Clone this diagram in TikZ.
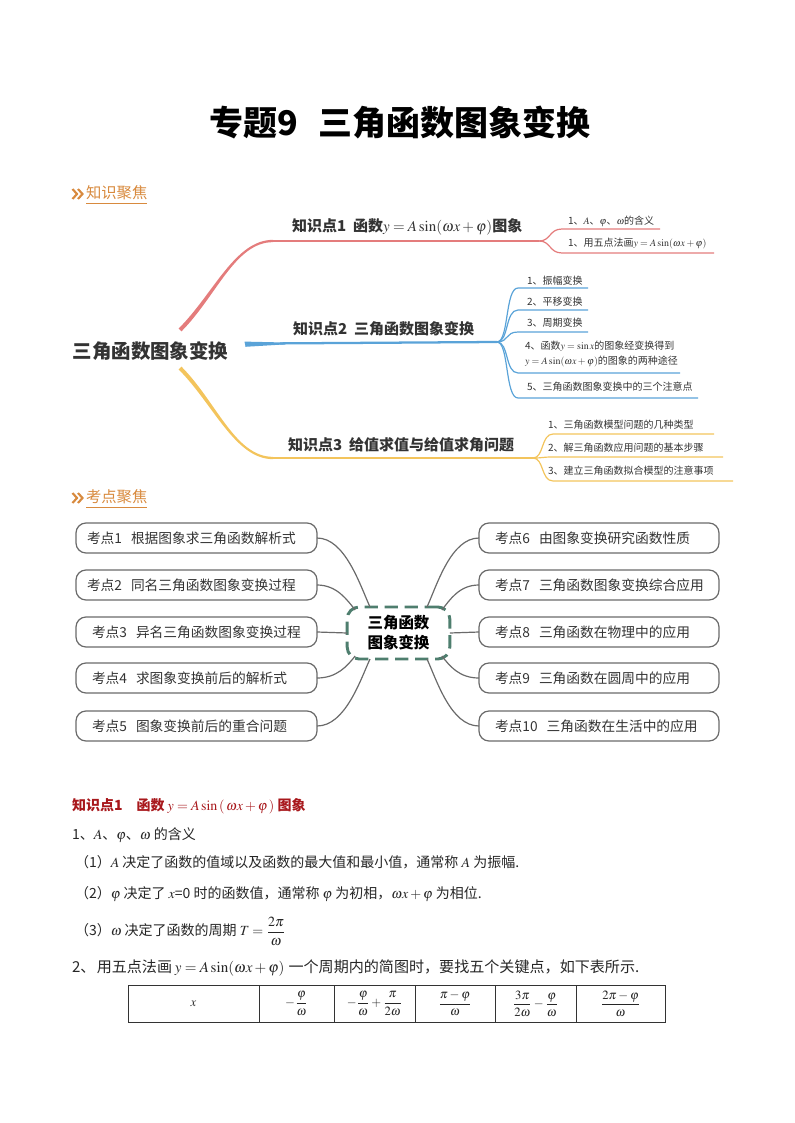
\documentclass[tikz,border=0pt]{standalone}
\usepackage{amsmath}
\usepackage{mathptmx}
\usepackage{fontspec}
\setmainfont{Noto Sans CJK SC}
\usetikzlibrary{calc}
\definecolor{redb}{HTML}{E47C7C}
\definecolor{blueb}{HTML}{5AA3D8}
\definecolor{yelb}{HTML}{F3C45C}
\definecolor{hdrc}{HTML}{D88A3E}
\definecolor{dkred}{HTML}{A8181C}
\definecolor{dgreen}{HTML}{4E7E6E}
\definecolor{txtc}{HTML}{333333}
\definecolor{linec}{HTML}{6A6A6A}
\begin{document}
\begin{tikzpicture}[x=0.75pt,y=-0.75pt,
  every node/.style={inner sep=0pt,outer sep=0pt},
  ttl/.style={font=\fontsize{25.5}{28}\selectfont\bfseries},
  hdr/.style={font=\fontsize{11.5}{13}\selectfont, text=hdrc, anchor=west},
  roottxt/.style={font=\fontsize{14.6}{16}\selectfont\bfseries, text=txtc},
  brtxt/.style={font=\fontsize{11.25}{13}\selectfont\bfseries, text=txtc, anchor=west},
  subtxt/.style={font=\fontsize{7.5}{11.25}\selectfont, text=txtc, anchor=west},
  mainbr/.style={line width=1.7pt},
  subbr/.style={line width=0.9pt},
  kboxA/.style={draw=linec, line width=0.9pt, rounded corners=7.5pt, minimum height=22.5pt, inner xsep=8.25pt, text width=164.25pt, align=left, font=\fontsize{10.3}{12}\selectfont, text=txtc, anchor=west},
  kboxB/.style={kboxA, inner xsep=12pt, text width=#1},
  cnode/.style={draw=dgreen, line width=2.2pt, dash pattern=on 10pt off 5pt, rounded corners=9pt, minimum width=77pt, minimum height=39pt, align=center, font=\fontsize{11.6}{15}\selectfont\bfseries, text=black},
  conn/.style={draw=linec, line width=0.9pt},
  body/.style={font=\fontsize{10.5}{12}\selectfont, text=black!85, anchor=west},
  cell/.style={font=\fontsize{9.5}{11}\selectfont, text=black!85}
]
\useasboundingbox (0,0) rectangle (794,1123);
\newcommand{\gap}{\hspace{0.65em}}

% Title
\node[ttl] (title) at (400,123) {专题9\hspace{0.6em}三角函数图象变换};

% Header 1
\node[hdr] (h1) at (86,193) {知识聚焦};
\draw[hdrc, line width=0.75pt] ($(h1.south west)+(0,3)$) -- ($(h1.south east)+(0,3)$);
\draw[hdrc, line width=1.6pt] (72.5,189) -- (77,194) -- (72.5,199) (78,189) -- (82.5,194) -- (78,199);

% Mind map 1
\node[roottxt] (root) at (150.5,351) {三角函数图象变换};

% red branch
\coordinate (r0) at ($(root.center)+(29.5,-21)$);
\coordinate (r1) at (539,241);
\fill[redb] (178.6,328.6) .. controls (213.6,293.6) and (235,239.85) .. (273,239.85)
  -- (273,242.15) .. controls (235,242.15) and (216.4,296.4) .. (181.4,331.4) -- cycle;
\draw[redb, mainbr] (273,241) -- (r1);
\node[brtxt] (k1) at (292,227) {知识点1\ \ 函数$y=A\sin(\omega x+\varphi)$图象};
\coordinate (r1a) at (562,229); \coordinate (r1ae) at (660,229);
\coordinate (r1b) at (562,253); \coordinate (r1be) at (714,253);
\draw[redb, subbr] (r1) .. controls (551,241) and (549,229) .. (r1a) -- (r1ae);
\draw[redb, subbr] (r1) .. controls (551,241) and (549,253) .. (r1b) -- (r1be);
\node[subtxt] (s11) at (568,221) {1、$A$、$\varphi$、$\omega$的含义};
\node[subtxt] (s12) at (568,244) {1、用五点法画$y=A\sin(\omega x+\varphi)$};

% blue branch
\coordinate (b0) at ($(root.east)+(16,-7)$);
\coordinate (b1) at (497,342);
\fill[blueb] (244.5,341.6) -- (285,342.5) -- (285,344.4) -- (245.5,346.8) -- cycle;
\draw[blueb, mainbr] (280,343.4) -- (b1);
\node[brtxt] (k2) at (293,329) {知识点2\ \ 三角函数图象变换};
\coordinate (b1a) at (518,288); \coordinate (b1ae) at (588,288);
\coordinate (b1b) at (518,310); \coordinate (b1be) at (588,310);
\coordinate (b1c) at (518,332); \coordinate (b1ce) at (588,332);
\coordinate (b1d) at (518,373); \coordinate (b1de) at (680,373);
\coordinate (b1e) at (518,398); \coordinate (b1ee) at (698,398);
\draw[blueb, subbr] (b1) .. controls (509,342) and (505,288) .. (b1a) -- (b1ae);
\draw[blueb, subbr] (b1) .. controls (509,342) and (505,310) .. (b1b) -- (b1be);
\draw[blueb, subbr] (b1) .. controls (509,342) and (505,332) .. (b1c) -- (b1ce);
\draw[blueb, subbr] (b1) .. controls (509,342) and (505,373) .. (b1d) -- (b1de);
\draw[blueb, subbr] (b1) .. controls (509,342) and (505,398) .. (b1e) -- (b1ee);
\node[subtxt] (s21) at (527,281) {1、振幅变换};
\node[subtxt] (s22) at (527,302) {2、平移变换};
\node[subtxt] (s23) at (527,323) {3、周期变换};
\node[subtxt, align=left] (s24) at (525,354.5) {4、函数$y=\sin x$的图象经变换得到\\$y=A\sin(\omega x+\varphi)$的图象的两种途径};
\node[subtxt] (s25) at (527,387) {5、三角函数图象变换中的三个注意点};

% yellow branch
\coordinate (y1) at (533,458);
\fill[yelb] (181.4,366.6) .. controls (216.4,401.6) and (235,456.85) .. (273,456.85)
  -- (273,459.15) .. controls (235,459.15) and (213.6,404.4) .. (178.6,369.4) -- cycle;
\draw[yelb, mainbr] (273,458) -- (y1);
\node[brtxt] (k3) at (288,445) {知识点3\ \ 给值求值与给值求角问题};
\coordinate (y1a) at (553,434); \coordinate (y1ae) at (714,434);
\coordinate (y1b) at (553,457); \coordinate (y1be) at (723,457);
\coordinate (y1c) at (553,481); \coordinate (y1ce) at (733,481);
\draw[yelb, subbr] (y1) .. controls (544,458) and (541,434) .. (y1a) -- (y1ae);
\draw[yelb, subbr] (y1) .. controls (544,458) and (541,457) .. (y1b) -- (y1be);
\draw[yelb, subbr] (y1) .. controls (544,458) and (541,481) .. (y1c) -- (y1ce);
\node[subtxt] (s31) at (548,425) {1、三角函数模型问题的几种类型};
\node[subtxt] (s32) at (548,448) {2、解三角函数应用问题的基本步骤};
\node[subtxt] (s33) at (548,471) {3、建立三角函数拟合模型的注意事项};

% Header 2
\node[hdr] (h2) at (86,497) {考点聚焦};
\draw[hdrc, line width=0.75pt] ($(h2.south west)+(0,3)$) -- ($(h2.south east)+(0,3)$);
\draw[hdrc, line width=1.6pt] (72.5,493) -- (77,498) -- (72.5,503) (78,493) -- (82.5,498) -- (78,503);

% Mind map 2
\node[cnode] (cn) at (398.5,633) {三角函数\\图象变换};
\node[kboxA] (kb1) at (76,538) {\mbox{考点1\gap 根据图象求三角函数解析式}};
\node[kboxA] (kb2) at (76,585) {\mbox{考点2\gap 同名三角函数图象变换过程}};
\node[kboxB=156.75pt] (kb3) at (76,632) {\mbox{考点3\gap 异名三角函数图象变换过程}};
\node[kboxB=156.75pt] (kb4) at (76,678) {\mbox{考点4\gap 求图象变换前后的解析式}};
\node[kboxB=156.75pt] (kb5) at (76,726) {\mbox{考点5\gap 图象变换前后的重合问题}};
\node[kboxB=156pt] (kb6) at (479,538) {\mbox{考点6\gap 由图象变换研究函数性质}};
\node[kboxB=156pt] (kb7) at (479,585) {\mbox{考点7\gap 三角函数图象变换综合应用}};
\node[kboxB=156pt] (kb8) at (479,632) {\mbox{考点8\gap 三角函数在物理中的应用}};
\node[kboxB=156pt] (kb9) at (479,678) {\mbox{考点9\gap 三角函数在圆周中的应用}};
\node[kboxB=156pt] (kb10) at (479,726) {\mbox{考点10\gap 三角函数在生活中的应用}};

\draw[conn] (kb1.east) .. controls +(28,0) and +(-10,-22) .. ($(cn.north)+(-28.5,0)$);
\draw[conn] (kb2.east) .. controls +(20,0) and +(-8,-10) .. ($(cn.north west)+(8,3)$);
\draw[conn] (kb3.east) -- (cn.west);
\draw[conn] (kb4.east) .. controls +(20,0) and +(-8,10) .. ($(cn.south west)+(8,-3)$);
\draw[conn] (kb5.east) .. controls +(28,0) and +(-10,22) .. ($(cn.south)+(-28.5,0)$);
\draw[conn] (kb6.west) .. controls +(-28,0) and +(10,-22) .. ($(cn.north)+(28.5,0)$);
\draw[conn] (kb7.west) .. controls +(-20,0) and +(8,-10) .. ($(cn.north east)+(-8,3)$);
\draw[conn] (kb8.west) -- (cn.east);
\draw[conn] (kb9.west) .. controls +(-20,0) and +(8,10) .. ($(cn.south east)+(-8,-3)$);
\draw[conn] (kb10.west) .. controls +(-28,0) and +(10,22) .. ($(cn.south)+(28.5,0)$);

% Lower text
\node[body, font=\fontsize{10.5}{12}\selectfont\bfseries, text=dkred] (kd) at (72,806) {知识点1\hspace{1em}函数 $y=A\sin\,(\,\omega x+\varphi\,)$ 图象};
\node[body] (l1) at (72,835) {1、$A$、$\varphi$、$\omega$ 的含义};
\node[body] (l2) at (75,862) {（1）$A$ 决定了函数的值域以及函数的最大值和最小值，通常称 $A$ 为振幅.};
\node[body] (l3) at (75,894) {（2）$\varphi$ 决定了 $x$=0 时的函数值，通常称 $\varphi$ 为初相，$\omega x+\varphi$ 为相位.};
\node[body] (l4) at (75,931) {（3）$\omega$ 决定了函数的周期 $T=\displaystyle\frac{2\pi}{\omega}$};
\node[body, font=\fontsize{11.3}{12}\selectfont] (l5) at (72,968) {2、\hspace{1pt}用五点法画\hspace{2pt}$y=A\sin(\omega x+\varphi)$\hspace{3pt}一个周期内的简图时，要找五个关键点，如下表所示.};

% Table
\draw[black!80, line width=0.6pt] (128,985) rectangle (665,1022);
\foreach \xx in {259,334,415,495,576} \draw[black!80, line width=0.6pt] (\xx,985) -- (\xx,1022);
\node[cell] (c1) at (193.5,1003.5) {$x$};
\node[cell] (c2) at (296.5,1003.5) {$-\dfrac{\varphi}{\omega}$};
\node[cell] (c3) at (374.5,1003.5) {$-\dfrac{\varphi}{\omega}+\dfrac{\pi}{2\omega}$};
\node[cell] (c4) at (455,1003.5) {$\dfrac{\pi-\varphi}{\omega}$};
\node[cell] (c5) at (535.5,1003.5) {$\dfrac{3\pi}{2\omega}-\dfrac{\varphi}{\omega}$};
\node[cell] (c6) at (620.5,1003.5) {$\dfrac{2\pi-\varphi}{\omega}$};
\end{tikzpicture}
\end{document}
